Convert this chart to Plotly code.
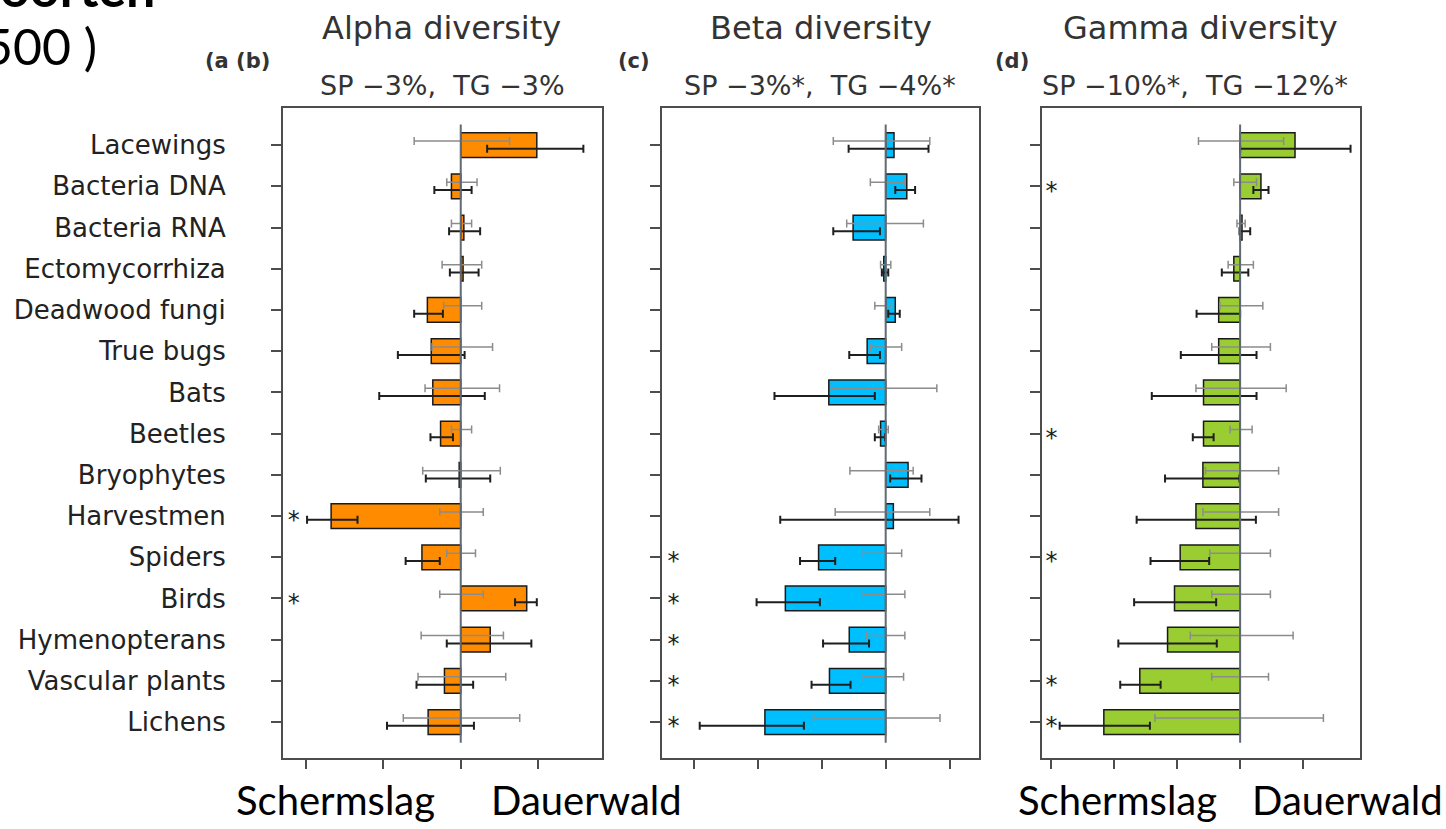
import plotly.graph_objects as go

# ---------------- data ----------------
categories = ["Lacewings", "Bacteria DNA", "Bacteria RNA", "Ectomycorrhiza", "Deadwood fungi",
              "True bugs", "Bats", "Beetles", "Bryophytes", "Harvestmen", "Spiders", "Birds",
              "Hymenopterans", "Vascular plants", "Lichens"]

# Alpha diversity
alpha_bar = [0.98, -0.12, 0.04, 0.03, -0.43, -0.38, -0.36, -0.26, -0.02, -1.67, -0.50, 0.85, 0.38, -0.21, -0.42]
alpha_tg_lo = [0.34, -0.34, -0.15, -0.14, -0.60, -0.81, -1.05, -0.39, -0.45, -1.98, -0.71, 0.70, -0.18, -0.57, -0.95]
alpha_tg_hi = [1.58, 0.14, 0.25, 0.23, -0.23, 0.05, 0.31, -0.10, 0.38, -1.33, -0.27, 0.98, 0.91, 0.16, 0.17]
alpha_sp_lo = [-0.60, -0.18, -0.12, -0.24, -0.22, -0.37, -0.46, -0.12, -0.49, -0.27, -0.18, -0.27, -0.51, -0.55, -0.74]
alpha_sp_hi = [0.63, 0.21, 0.14, 0.27, 0.27, 0.41, 0.50, 0.14, 0.51, 0.29, 0.19, 0.29, 0.55, 0.58, 0.76]
alpha_sig = [0, 0, 0, 0, 0, 0, 0, 0, 0, 1, 0, 1, 0, 0, 0]

# Beta diversity
beta_bar = [0.13, 0.33, -0.51, -0.03, 0.15, -0.29, -0.89, -0.08, 0.35, 0.12, -1.05, -1.57, -0.57, -0.88, -1.89]
beta_tg_lo = [-0.58, 0.15, -0.82, -0.06, 0.04, -0.57, -1.74, -0.17, 0.07, -1.65, -1.34, -2.02, -0.98, -1.16, -2.91]
beta_tg_hi = [0.67, 0.46, -0.09, 0.04, 0.22, -0.09, -0.17, -0.01, 0.56, 1.14, -0.79, -1.03, -0.26, -0.55, -1.28]
beta_sp_lo = [-0.82, -0.24, -0.61, -0.08, -0.17, -0.24, -0.85, -0.11, -0.56, -0.79, -0.35, -0.35, -0.30, -0.35, -1.13]
beta_sp_hi = [0.69, 0.30, 0.59, 0.08, 0.09, 0.25, 0.80, 0.04, 0.43, 0.69, 0.25, 0.30, 0.30, 0.28, 0.85]
beta_sig = [0, 0, 0, 0, 0, 0, 0, 0, 0, 0, 1, 1, 1, 1, 1]

# Gamma diversity
gamma_bar = [0.87, 0.33, 0.03, -0.10, -0.34, -0.34, -0.58, -0.58, -0.59, -0.70, -0.95, -1.04, -1.15, -1.59, -2.16]
gamma_tg_lo = [0.00, 0.21, -0.01, -0.29, -0.69, -0.94, -1.40, -0.75, -1.19, -1.64, -1.42, -1.68, -1.93, -1.90, -2.86]
gamma_tg_hi = [1.75, 0.45, 0.16, 0.13, 0.00, 0.26, 0.26, -0.42, -0.01, 0.25, -0.49, -0.38, -0.37, -1.26, -1.43]
gamma_sp_lo = [-0.66, -0.10, -0.05, -0.19, -0.32, -0.45, -0.70, -0.16, -0.55, -0.59, -0.48, -0.45, -0.79, -0.45, -1.35]
gamma_sp_hi = [0.69, 0.26, 0.08, 0.21, 0.36, 0.48, 0.73, 0.19, 0.61, 0.61, 0.48, 0.48, 0.84, 0.45, 1.32]
gamma_sig = [0, 1, 0, 0, 0, 0, 0, 1, 0, 0, 1, 0, 0, 1, 1]

titles = ["Alpha diversity", "Beta diversity", "Gamma diversity"]
subtitles = ["SP −3%,  TG −3%", "SP −3%*,  TG −4%*", "SP −10%*,  TG −12%*"]
panel_tags = ["(a (b)", "(c)", "(d)"]
x_ticks = [[-2, -1, 0, 1], [-3, -2, -1, 0, 1], [-3, -2, -1, 0, 1]]
direction_labels = ["Schermslag", "Dauerwald"]

# ---------------- style ----------------
W, H = 1446, 829
def px(x):
    return x / W
def py(y):
    return 1 - y / H

styles = [
    dict(color="#FF8C00", xdom=(283, 602), xrange=(-2.29, 1.82), star_x=-2.15, title_x=441, sub_x=442, tag_x=237),
    dict(color="#00BFFF", xdom=(662, 979), xrange=(-3.50, 1.46), star_x=-3.32, title_x=821, sub_x=820, tag_x=634),
    dict(color="#9ACD32", xdom=(1042, 1360), xrange=(-3.14, 1.90), star_x=-2.99, title_x=1200, sub_x=1195, tag_x=1012),
]
panels = [
    (alpha_bar, alpha_tg_lo, alpha_tg_hi, alpha_sp_lo, alpha_sp_hi, alpha_sig),
    (beta_bar, beta_tg_lo, beta_tg_hi, beta_sp_lo, beta_sp_hi, beta_sig),
    (gamma_bar, gamma_tg_lo, gamma_tg_hi, gamma_sp_lo, gamma_sp_hi, gamma_sig),
]

n = len(categories)
ys = list(range(n))
Y_TOP, Y_BOT = 108, 758
AXCOL = "#4d4d4d"
LABEL_FONT = "DejaVu Sans"

fig = go.Figure()
layout = dict(
    width=W, height=H, margin=dict(l=0, r=0, t=0, b=0),
    paper_bgcolor="white", plot_bgcolor="white", showlegend=False,
)
shapes = []
annotations = []


def err_trace(lo, hi, offset, color, thick, xa, ya):
    c = [(a + b) / 2 for a, b in zip(lo, hi)]
    return go.Scatter(
        x=c, y=[y + offset for y in ys], mode="markers",
        marker=dict(size=1, color="rgba(0,0,0,0)"),
        error_x=dict(type="data", symmetric=False,
                     array=[b - m for b, m in zip(hi, c)],
                     arrayminus=[m - a for a, m in zip(lo, c)],
                     color=color, thickness=thick, width=4),
        xaxis=xa, yaxis=ya, hoverinfo="skip", showlegend=False,
    )


for i, (data, st) in enumerate(zip(panels, styles)):
    bar, tg_lo, tg_hi, sp_lo, sp_hi, sig = data
    sfx = "" if i == 0 else str(i + 1)
    xa, ya = "x" + sfx, "y" + sfx

    fig.add_trace(go.Bar(
        x=bar, y=ys, orientation="h", width=0.6,
        marker=dict(color=st["color"], line=dict(color="#1a1a1a", width=1.5)),
        xaxis=xa, yaxis=ya, showlegend=False,
    ))
    fig.add_trace(err_trace(sp_lo, sp_hi, -0.10, "#8c8c8c", 1.5, xa, ya))
    fig.add_trace(err_trace(tg_lo, tg_hi, 0.09, "#1f1f1f", 2, xa, ya))

    star_y = [y for y, s in zip(ys, sig) if s]
    fig.add_trace(go.Scatter(
        x=[st["star_x"]] * len(star_y), y=[y + 0.15 for y in star_y], mode="text",
        text=["*"] * len(star_y), textfont=dict(size=24, color="#222222", family=LABEL_FONT),
        xaxis=xa, yaxis=ya, hoverinfo="skip", showlegend=False,
    ))

    layout["xaxis" + sfx] = dict(
        domain=[px(st["xdom"][0]), px(st["xdom"][1])], range=list(st["xrange"]),
        anchor=ya, showline=True, mirror=True, linecolor=AXCOL, linewidth=2,
        ticks="outside", ticklen=9, tickwidth=1.5, tickcolor=AXCOL,
        tickvals=x_ticks[i], showticklabels=False, showgrid=False, zeroline=False,
    )
    layout["yaxis" + sfx] = dict(
        domain=[py(Y_BOT), py(Y_TOP)], range=[n - 1 + 0.87, -0.90],
        anchor=xa, showline=True, mirror=True, linecolor=AXCOL, linewidth=2,
        ticks="outside", ticklen=10, tickwidth=1.5, tickcolor=AXCOL,
        tickvals=ys, ticktext=categories, showticklabels=(i == 0),
        tickfont=dict(family=LABEL_FONT, size=26, color="#222222"),
        ticklabelstandoff=40, showgrid=False, zeroline=False,
    )

    shapes.append(dict(type="line", xref=xa, yref=ya, x0=0, x1=0, y0=-0.5, y1=n - 0.5,
                       line=dict(color="#5f6a74", width=2), layer="above"))

    annotations.append(dict(text=titles[i], x=px(st["title_x"]), y=py(28), xref="paper", yref="paper",
                            showarrow=False, xanchor="center", yanchor="middle",
                            font=dict(family=LABEL_FONT, size=32, color="#333333")))
    annotations.append(dict(text=subtitles[i], x=px(st["sub_x"]), y=py(85), xref="paper", yref="paper",
                            showarrow=False, xanchor="center", yanchor="middle",
                            font=dict(family=LABEL_FONT, size=27, color="#333333")))
    annotations.append(dict(text="<b>" + panel_tags[i] + "</b>", x=px(st["tag_x"]), y=py(61),
                            xref="paper", yref="paper", showarrow=False, xanchor="center", yanchor="middle",
                            font=dict(family=LABEL_FONT, size=21, color="#333333")))

# bottom direction labels
for txt, xc in [(direction_labels[0], 335), (direction_labels[1], 586),
                (direction_labels[0], 1117), (direction_labels[1], 1347)]:
    annotations.append(dict(text=txt, x=px(xc), y=py(800), xref="paper", yref="paper",
                            showarrow=False, xanchor="center", yanchor="middle",
                            font=dict(family="Lato", size=40, color="black")))

# cropped heading at top-left (cut off by the image edge, as in the reference)
annotations.append(dict(text="<b>oorten</b>", x=px(-2), y=py(20), xref="paper", yref="paper",
                        showarrow=False, xanchor="left", yanchor="bottom",
                        font=dict(family="Lato", size=52, color="black")))
annotations.append(dict(text="500 )", x=px(-18), y=py(46), xref="paper", yref="paper",
                        showarrow=False, xanchor="left", yanchor="middle",
                        font=dict(family="Lato", size=50, color="black")))

layout["shapes"] = shapes
layout["annotations"] = annotations
fig.update_layout(**layout)
fig.write_html("out.html", config={"displayModeBar": False},
               post_script="document.body.style.margin='0px';document.body.style.overflow='hidden';")
